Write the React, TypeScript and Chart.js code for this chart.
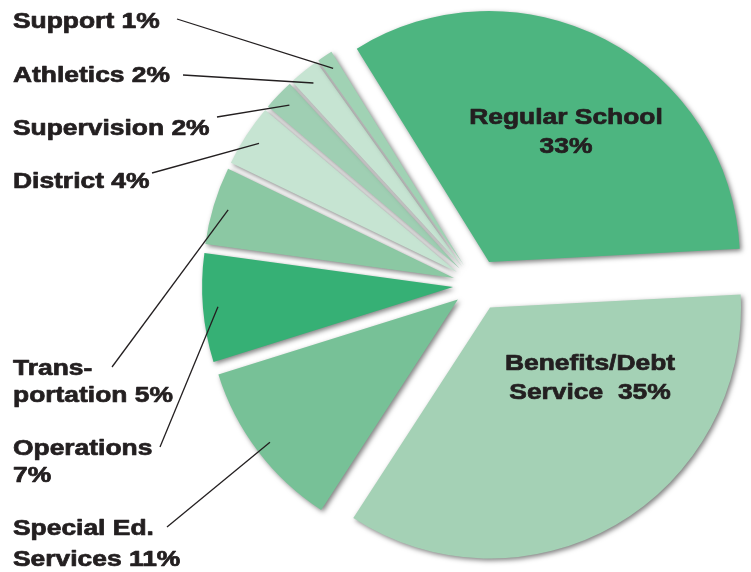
import React, { useEffect, useRef } from "react";
import { Chart, registerables } from "chart.js";

Chart.register(...registerables);

// ---- data ----
const categories = [
  "Benefits/Debt Service",
  "Special Ed. Services",
  "Operations",
  "Transportation",
  "District",
  "Supervision",
  "Athletics",
  "Support",
  "Regular School",
];
const values = [35, 11, 7, 5, 4, 2, 2, 1, 33];

// text shown for each slice (outside labels with leader lines / inside labels)
const sideLabelLines: (string[] | null)[] = [
  null,
  ["Special Ed.", "Services 11%"],
  ["Operations", "7%"],
  ["Trans-", "portation 5%"],
  ["District 4%"],
  ["Supervision 2%"],
  ["Athletics 2%"],
  ["Support 1%"],
  null,
];
const insideLabelLines: (string[] | null)[] = [
  ["Benefits/Debt", "Service  35%"],
  null,
  null,
  null,
  null,
  null,
  null,
  null,
  ["Regular School", "33%"],
];

// ---- styles ----
const colors = [
  "#a4d1b5",
  "#77c197",
  "#36b075",
  "#8bc8a3",
  "#c6e4d2",
  "#9fcfb3",
  "#c6e4d2",
  "#a0d2b4",
  "#4db580",
];
const explode = [26, 24, 24, 24, 24, 24, 24, 24, 26];

const sideLabelLayout: ({ x: number; baselines: number[]; anchor: [number, number] } | null)[] = [
  null,
  { x: 13, baselines: [535, 566], anchor: [167, 527] },
  { x: 13, baselines: [455, 482], anchor: [160, 447] },
  { x: 13, baselines: [375, 402], anchor: [112, 367] },
  { x: 13, baselines: [188], anchor: [152, 173] },
  { x: 13, baselines: [135], anchor: [217, 117] },
  { x: 13, baselines: [82], anchor: [183, 75] },
  { x: 13, baselines: [28], anchor: [177, 19] },
  null,
];
const insideLabelLayout: ({ cx: number; baselines: number[] } | null)[] = [
  { cx: 590, baselines: [370, 399] },
  null,
  null,
  null,
  null,
  null,
  null,
  null,
  { cx: 566, baselines: [124, 153] },
];

const FONT = "bold 22px 'Liberation Sans', Arial, Helvetica, sans-serif";
const TEXT_COLOR = "#231f20";
const STRETCH = 1.2;

function drawText(ctx: CanvasRenderingContext2D, text: string, x: number, y: number, align: CanvasTextAlign) {
  ctx.save();
  ctx.translate(x, y);
  ctx.scale(STRETCH, 1);
  ctx.textAlign = align;
  ctx.textBaseline = "alphabetic";
  ctx.lineWidth = 0.7;
  ctx.lineJoin = "round";
  ctx.strokeText(text, 0, 0);
  ctx.fillText(text, 0, 0);
  ctx.restore();
}

const explodePlugin = {
  id: "explodeSlices",
  afterDatasetUpdate(chart: any, args: any) {
    const meta = args.meta;
    meta.data.forEach((arc: any, i: number) => {
      const mid = (arc.startAngle + arc.endAngle) / 2;
      const d = explode[i] || 0;
      arc.x += Math.cos(mid) * d;
      arc.y += Math.sin(mid) * d;
    });
  },
};

const shadowAndLabelsPlugin = {
  id: "shadowAndLabels",
  beforeDatasetsDraw(chart: any) {
    const ctx = chart.ctx;
    ctx.save();
    ctx.shadowColor = "rgba(0,0,0,0.5)";
    ctx.shadowBlur = 5;
    ctx.shadowOffsetX = 2;
    ctx.shadowOffsetY = 2;
  },
  afterDatasetsDraw(chart: any) {
    const ctx: CanvasRenderingContext2D = chart.ctx;
    ctx.restore();
    const meta = chart.getDatasetMeta(0);
    ctx.save();
    ctx.font = FONT;
    ctx.fillStyle = TEXT_COLOR;
    ctx.strokeStyle = TEXT_COLOR;
    meta.data.forEach((arc: any, i: number) => {
      const side = sideLabelLines[i];
      const sl = sideLabelLayout[i];
      if (side && sl) {
        side.forEach((line, k) => drawText(ctx, line, sl.x, sl.baselines[k], "left"));
        const mid = (arc.startAngle + arc.endAngle) / 2;
        const r = arc.outerRadius * 0.94;
        const ex = arc.x + Math.cos(mid) * r;
        const ey = arc.y + Math.sin(mid) * r;
        ctx.save();
        ctx.lineWidth = 1.3;
        ctx.beginPath();
        ctx.moveTo(sl.anchor[0], sl.anchor[1]);
        ctx.lineTo(ex, ey);
        ctx.stroke();
        ctx.restore();
      }
      const ins = insideLabelLines[i];
      const il = insideLabelLayout[i];
      if (ins && il) {
        ins.forEach((line, k) => drawText(ctx, line, il.cx, il.baselines[k], "center"));
      }
    });
    ctx.restore();
  },
};

export default function App() {
  const canvasRef = useRef<HTMLCanvasElement | null>(null);

  useEffect(() => {
    document.body.style.margin = "0";
    const canvas = canvasRef.current;
    if (!canvas) return;
    const chart = new Chart(canvas, {
      type: "pie",
      data: {
        labels: categories,
        datasets: [
          {
            data: values,
            backgroundColor: colors,
            borderWidth: 0,
            radius: 251,
            clip: false,
          } as any,
        ],
      },
      options: {
        animation: false,
        responsive: true,
        maintainAspectRatio: false,
        rotation: 87,
        layout: { padding: { left: 203, right: 0, top: 0, bottom: 2 } },
        plugins: {
          legend: { display: false },
          tooltip: { enabled: false },
        },
        events: [],
      } as any,
      plugins: [explodePlugin, shadowAndLabelsPlugin],
    });
    return () => chart.destroy();
  }, []);

  return (
    <div style={{ position: "absolute", left: 0, top: 0, width: 751, height: 572, background: "#ffffff" }}>
      <canvas ref={canvasRef} />
    </div>
  );
}
